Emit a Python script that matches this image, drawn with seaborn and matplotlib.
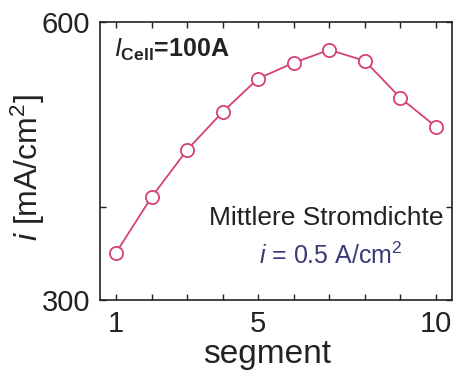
import matplotlib
matplotlib.use("Agg")
import matplotlib.pyplot as plt
import seaborn as sns
import pandas as pd

segments = [1, 2, 3, 4, 5, 6, 7, 8, 9, 10]
current_density = [351, 411, 462, 503, 539, 556, 570, 558, 518, 487]
xtick_labels = ["1", "5", "10"]
xticks_labeled = [1, 5, 10]
ytick_labels = ["300", "600"]

sns.set_theme(style="ticks")
plt.rcParams['font.family'] = ['Liberation Sans', 'DejaVu Sans']
plt.rcParams['mathtext.fontset'] = 'custom'
plt.rcParams['mathtext.rm'] = 'Liberation Sans'
plt.rcParams['mathtext.it'] = 'Liberation Sans:italic'
plt.rcParams['mathtext.bf'] = 'Liberation Sans:bold'

df = pd.DataFrame({"segment": segments, "i": current_density})

fig = plt.figure(figsize=(4.56, 3.76), dpi=100)
ax = fig.add_axes([100/456, 1 - 300/376, 352/456, 278/376])

color = "#d6407a"
sns.lineplot(data=df, x="segment", y="i", ax=ax, color=color, lw=1.3,
             marker="o", markersize=9.5, markerfacecolor="white",
             markeredgecolor=color, markeredgewidth=1.3)

ax.set_xlim(0.55, 10.45)
ax.set_ylim(300, 600)
ax.set_xticks(segments)
ax.set_xticklabels([str(s) if s in xticks_labeled else "" for s in segments])
ax.set_yticks([300, 400, 600])
ax.set_yticklabels(["300", "", "600"])
ax.tick_params(direction="in", length=4, width=1, labelsize=21, top=True, right=True, colors="#222222")
ax.tick_params(axis="x", pad=7)
ax.tick_params(axis="y", pad=7)
for s in ax.spines.values():
    s.set_linewidth(1.2)
    s.set_color("#222222")

ax.set_xlabel("segment", fontsize=24, color="#222222")
ax.xaxis.set_label_coords(0.475, -0.14)
ax.set_ylabel(r"$\mathit{i}$ [mA/cm$^2$]", fontsize=23, color="#222222")
ax.yaxis.set_label_coords(-0.15, 0.475)

ax.text(0.04, 0.9, r"$\mathit{I}_{\mathbf{Cell}}$=100A", transform=ax.transAxes,
        fontsize=18, fontweight="bold", color="#222222", va="center")
ax.text(0.975, 0.295, "Mittlere Stromdichte", transform=ax.transAxes,
        fontsize=19, color="#222222", ha="right", va="center")
ax.text(0.86, 0.16, r"$\mathit{i}$ = 0.5 A/cm$^2$", transform=ax.transAxes,
        fontsize=18, color="#3a3a78", ha="right", va="center")

fig.savefig("out.png", dpi=100)
